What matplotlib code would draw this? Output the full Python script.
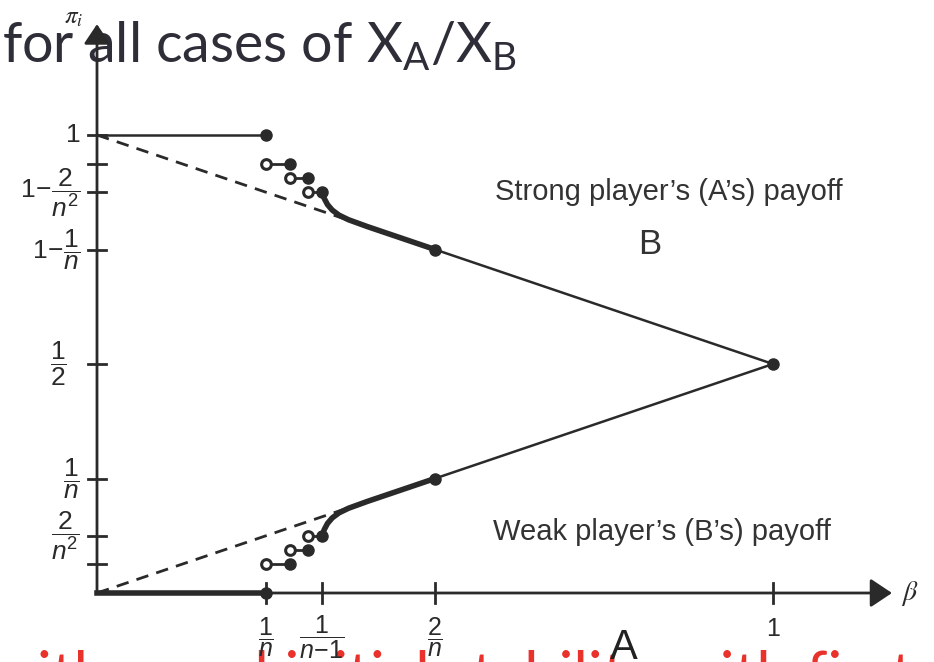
import matplotlib.pyplot as plt
import matplotlib as mpl

mpl.rcParams["mathtext.fontset"] = "custom"
mpl.rcParams["mathtext.rm"] = "Liberation Sans"
mpl.rcParams["mathtext.it"] = "Liberation Sans:italic"
mpl.rcParams["mathtext.sf"] = "Liberation Sans"

INK = "#2a2a2a"

# n = 4 in the sketch: breakpoints 1/n, 1/(n-1), 2/n, 1
x_ticks = [0.25, 1 / 3, 0.5, 1.0]
x_tick_labels = [r"$\dfrac{1}{n}$", r"$\dfrac{1}{n\!-\!1}$", r"$\dfrac{2}{n}$", r"$1$"]

y_ticks = [1.0, 0.9375, 0.875, 0.75, 0.5, 0.25, 0.125, 0.0625]
y_tick_labels = [r"$1$", "", r"$1\!-\!\dfrac{2}{n^2}$", r"$1\!-\!\dfrac{1}{n}$",
                 r"$\dfrac{1}{2}$", r"$\dfrac{1}{n}$", r"$\dfrac{2}{n^2}$", ""]

# strong player (A): flat part, three small steps, curved piece, linear part
a_flat_x = [0.0, 0.25]
a_flat_y = [1.0, 1.0]
a_step_x0 = [0.25, 0.2855, 0.312]
a_step_x1 = [0.2855, 0.312, 0.3333]
a_step_y = [0.9375, 0.906, 0.875]
a_curve_x = [0.3333, 0.336, 0.341, 0.348, 0.358, 0.372, 0.40, 0.45, 0.5]
a_curve_y = [0.875, 0.862, 0.848, 0.836, 0.825, 0.815, 0.800, 0.775, 0.75]
a_dash_x = [0.0, 0.374]
a_dash_y = [1.0, 0.813]

# weak player (B)
b_flat_x = [0.0, 0.25]
b_flat_y = [0.0, 0.0]
b_step_x0 = [0.25, 0.2855, 0.312]
b_step_x1 = [0.2855, 0.312, 0.3333]
b_step_y = [0.0625, 0.094, 0.125]
b_curve_x = [0.3333, 0.336, 0.341, 0.348, 0.358, 0.372, 0.40, 0.45, 0.5]
b_curve_y = [0.125, 0.138, 0.152, 0.164, 0.175, 0.185, 0.200, 0.225, 0.25]
b_dash_x = [0.0, 0.374]
b_dash_y = [0.0, 0.187]

# both payoffs meet at beta = 1
lin_x = [0.5, 1.0]
a_lin_y = [0.75, 0.5]
b_lin_y = [0.25, 0.5]

fig = plt.figure(figsize=(9.34, 6.62), dpi=100)
ax = fig.add_axes([0, 0, 1, 1])
ax.set_xlim(-97 / 676, 837 / 676)
ax.set_ylim(-69 / 458, 593 / 458)
ax.axis("off")

# slide text behind the figure
ax.text(-0.1405, 1.159, r"for all cases of $\mathregular{X_A/X_B}$", fontsize=40,
        family="Lato", color="#2e2e38", va="baseline", ha="left", zorder=0)
ax.text(-0.16, -0.223, "with equal initial stability with first-mover advantage",
        fontsize=44, family="Lato", color="#e8322b", va="baseline", ha="left", zorder=0)

# axes with arrows
head = "-|>,head_length=0.6,head_width=0.4"
ax.annotate("", xy=(0, 1.242), xytext=(0, 0),
            arrowprops=dict(arrowstyle=head, lw=2, color=INK, mutation_scale=20,
                            shrinkA=0, shrinkB=0), zorder=3)
ax.annotate("", xy=(1.176, 0), xytext=(0, 0),
            arrowprops=dict(arrowstyle=head, lw=2, color=INK, mutation_scale=22,
                            shrinkA=0, shrinkB=0), zorder=3)
ax.text(-0.02, 1.258, r"$\pi_i$", math_fontfamily="stix", fontsize=18, color=INK,
        ha="right", va="center")
ax.text(1.19, 0, r"$\beta$", math_fontfamily="stix", fontsize=20, color=INK,
        ha="left", va="center")

dx, dy = 9 / 676, 10 / 458
for xt, lab in zip(x_ticks, x_tick_labels):
    ax.plot([xt, xt], [-dy, dy], color=INK, lw=2, zorder=3)
    yl = -0.079 if lab == r"$1$" else -0.096
    ax.text(xt, yl, lab, fontsize=18, color=INK, ha="center", va="center", zorder=4)
for yt, lab in zip(y_ticks, y_tick_labels):
    ax.plot([-dx, dx], [yt, yt], color=INK, lw=2, zorder=3)
    pad = -0.045 if lab == r"$\dfrac{1}{2}$" else -0.025
    ax.text(pad, yt, lab, fontsize=19, color=INK, ha="right", va="center", zorder=4)

# dashed reference lines
ax.plot(a_dash_x, a_dash_y, ls=(0, (4.5, 3)), color=INK, lw=2)
ax.plot(b_dash_x, b_dash_y, ls=(0, (4.5, 3)), color=INK, lw=2)

# flat pieces
ax.plot(a_flat_x, a_flat_y, color=INK, lw=1.8, zorder=4)
ax.plot(b_flat_x, b_flat_y, color=INK, lw=4, zorder=4)
ax.plot(a_flat_x[-1], a_flat_y[-1], "o", color=INK, ms=8, zorder=6)
ax.plot(b_flat_x[-1], b_flat_y[-1], "o", color=INK, ms=8, zorder=6)

# steps: open start, filled end
for x0s, x1s, ys in [(a_step_x0, a_step_x1, a_step_y), (b_step_x0, b_step_x1, b_step_y)]:
    for x0, x1, y in zip(x0s, x1s, ys):
        ax.plot([x0, x1], [y, y], color=INK, lw=2, zorder=4)
        ax.plot(x0, y, "o", mfc="white", mec=INK, mew=2.2, ms=7, zorder=6)
        ax.plot(x1, y, "o", color=INK, ms=8, zorder=6)

# curved pieces
ax.plot(a_curve_x, a_curve_y, color=INK, lw=4, solid_capstyle="round", zorder=5)
ax.plot(b_curve_x, b_curve_y, color=INK, lw=4, solid_capstyle="round", zorder=5)

# linear part to the meeting point
ax.plot(lin_x, a_lin_y, color=INK, lw=1.8, zorder=4)
ax.plot(lin_x, b_lin_y, color=INK, lw=1.8, zorder=4)
ax.plot([lin_x[0], lin_x[0], lin_x[1]], [a_lin_y[0], b_lin_y[0], a_lin_y[1]], "o",
        color=INK, ms=8, zorder=6)

ax.text(0.846, 0.875, "Strong player\u2019s (A\u2019s) payoff", fontsize=21,
        family="Liberation Sans", color="#333333", ha="center", va="center")
ax.text(0.818, 0.76, "B", fontsize=25, family="Liberation Sans", color="#333333",
        ha="center", va="center")
ax.text(0.836, 0.133, "Weak player\u2019s (B\u2019s) payoff", fontsize=21,
        family="Liberation Sans", color="#333333", ha="center", va="center")
ax.text(0.78, -0.12, "A", fontsize=30, family="Liberation Sans", color="#222222",
        ha="center", va="center", zorder=5)

fig.savefig("out.png", dpi=100)
